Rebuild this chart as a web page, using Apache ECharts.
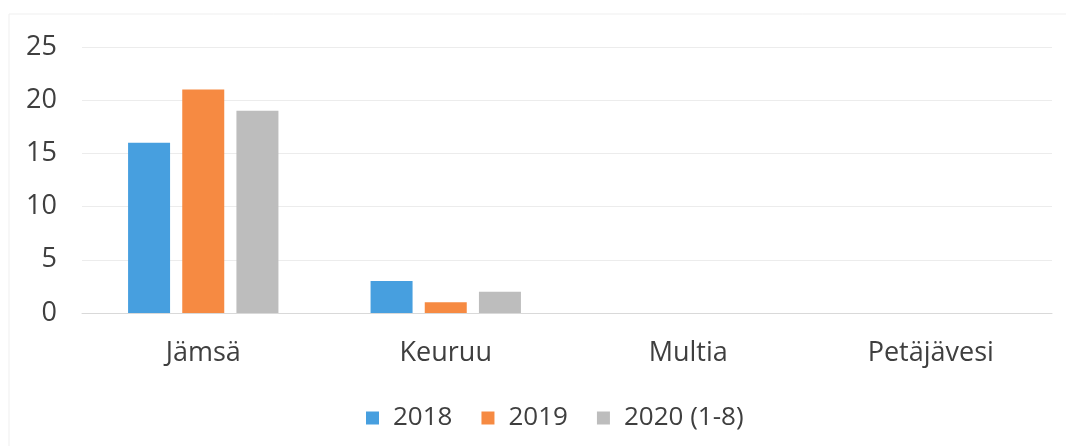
<!DOCTYPE html>
<html>
<head>
<meta charset="utf-8">
<script src="https://cdn.jsdelivr.net/npm/echarts@6/dist/echarts.min.js"></script>
<style>
  html, body { margin: 0; padding: 0; background: #fff; }
  #chart { width: 1066px; height: 446px; }
</style>
</head>
<body>
<div id="chart"></div>
<script>
var categories = ['Jämsä', 'Keuruu', 'Multia', 'Petäjävesi'];
var seriesNames = ['2018', '2019', '2020 (1-8)'];
var values2018 = [16, 3, 0, 0];
var values2019 = [21, 1, 0, 0];
var values2020 = [19, 2, 0, 0];
var yTicks = [0, 5, 10, 15, 20, 25];

var colors = ['#479fdf', '#f68a42', '#bdbdbd'];
var textColor = '#3f3f3f';
var fontFamily = '"Open Sans", "DejaVu Sans", sans-serif';

var myChart = echarts.init(document.getElementById('chart'));

var option = {
  animation: false,
  color: colors,
  textStyle: { fontFamily: fontFamily },
  grid: { left: 82, right: 14, top: 47, bottom: 133 },
  // faint frame of the scanned chart area
  graphic: [{
    type: 'rect',
    shape: { x: 9, y: 14, width: 1100, height: 500 },
    style: { fill: 'none', stroke: '#efefef', lineWidth: 1 },
    silent: true
  }],
  legend: {
    top: 400,
    left: 361,
    itemWidth: 13,
    itemHeight: 13,
    itemGap: 29,
    icon: 'rect',
    textStyle: { fontSize: 26, color: textColor, fontFamily: fontFamily, padding: [0, 0, 0, 9] },
    data: seriesNames
  },
  xAxis: {
    type: 'category',
    data: categories,
    axisTick: { show: false },
    axisLine: { lineStyle: { color: '#d9d9d9', width: 1 } },
    axisLabel: { fontSize: 27, color: textColor, margin: 27 }
  },
  yAxis: {
    type: 'value',
    min: yTicks[0],
    max: yTicks[yTicks.length - 1],
    interval: 5,
    axisLine: { show: false },
    axisTick: { show: false },
    axisLabel: { fontSize: 27, color: textColor, margin: 25 },
    splitLine: { lineStyle: { color: '#ececec', width: 1 } }
  },
  series: [
    { name: seriesNames[0], type: 'bar', data: values2018, barWidth: 42, barGap: '29%' },
    { name: seriesNames[1], type: 'bar', data: values2019, barWidth: 42, barGap: '29%' },
    { name: seriesNames[2], type: 'bar', data: values2020, barWidth: 42, barGap: '29%' }
  ]
};

myChart.setOption(option);
</script>
</body>
</html>
